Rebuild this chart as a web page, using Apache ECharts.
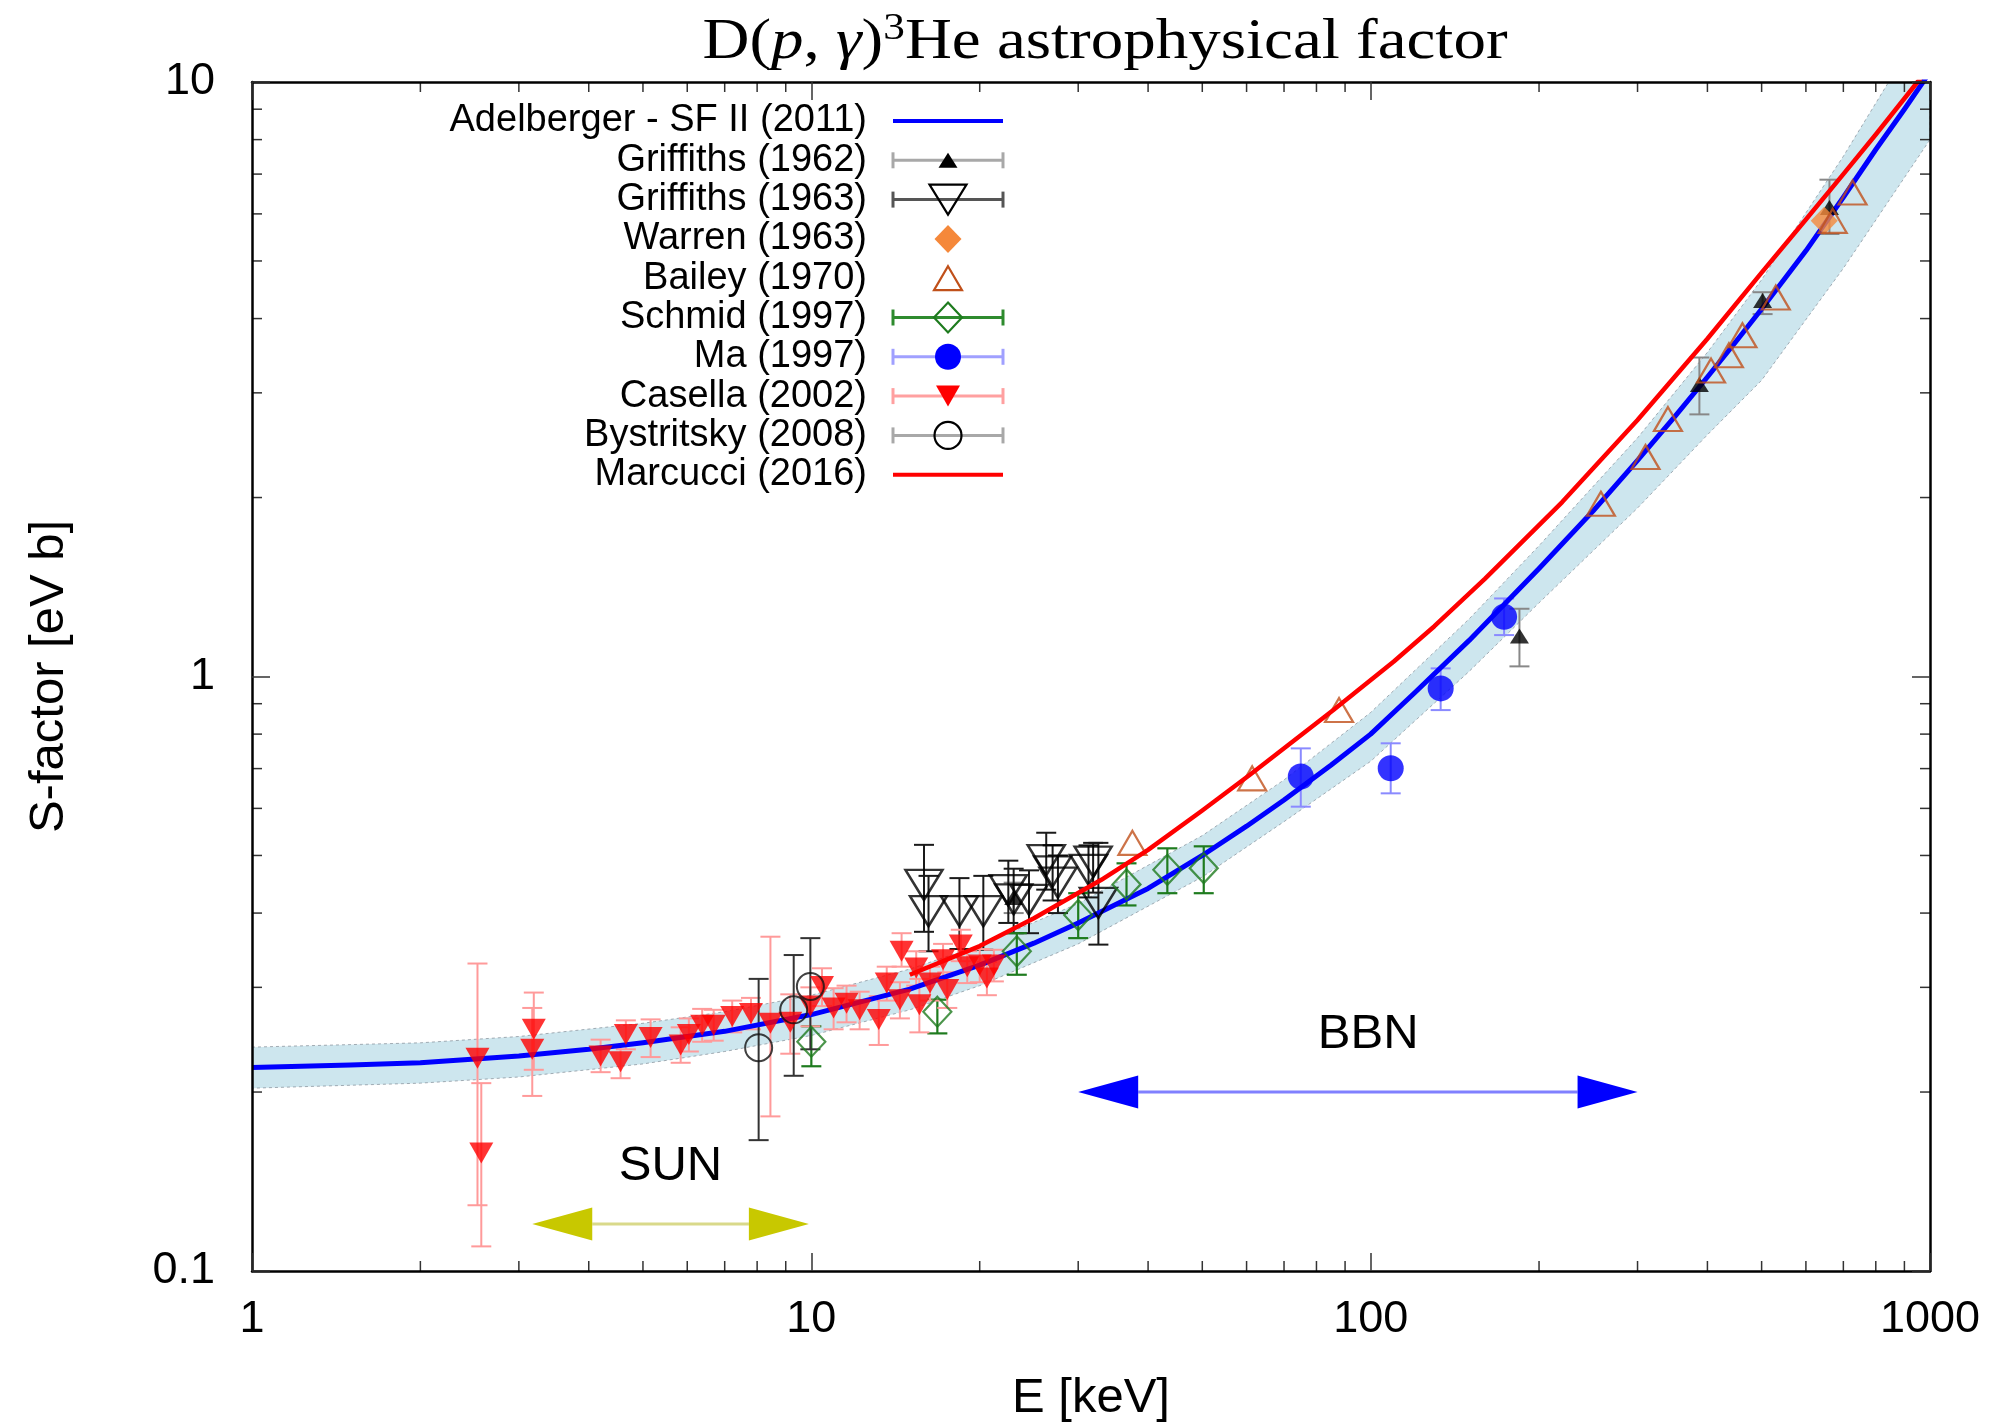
<!DOCTYPE html>
<html><head><meta charset="utf-8">
<script src="https://cdn.jsdelivr.net/npm/echarts@6/dist/echarts.min.js"></script>
<style>html,body{margin:0;padding:0;background:#fff}#c{width:2003px;height:1423px}</style>
</head><body><div id="c"></div>
<script>
// ---------------- data ----------------
const xTickLabels = ['1', '10', '100', '1000'];
const yTickLabels = ['0.1', '1', '10'];
const xMinorTicks = [2,3,4,5,6,7,8,9,20,30,40,50,60,70,80,90,200,300,400,500,600,700,800,900];
const yMinorTicks = [0.2,0.3,0.4,0.5,0.6,0.7,0.8,0.9,2,3,4,5,6,7,8,9];

const legendLabels = ['Adelberger - SF II (2011)', 'Griffiths (1962)', 'Griffiths (1963)', 'Warren (1963)',
  'Bailey (1970)', 'Schmid (1997)', 'Ma (1997)', 'Casella (2002)', 'Bystritsky (2008)', 'Marcucci (2016)'];

const adelbergerE = [1, 1.5, 2, 3, 4, 5, 7, 10, 15, 20, 25, 30, 40, 50, 60, 70, 85, 100, 120, 150, 200, 250, 300, 350, 400, 450, 500, 600, 700, 800, 900, 1000];
const adelbergerS = [0.220, 0.222, 0.224, 0.230, 0.236, 0.242, 0.253, 0.270, 0.298, 0.327, 0.356, 0.385, 0.44, 0.50, 0.56, 0.62, 0.71, 0.80, 0.94, 1.15, 1.52, 1.90, 2.31, 2.74, 3.19, 3.66, 4.15, 5.2, 6.4, 7.7, 9.0, 10.4];

const bandE  = [1, 2, 3, 5, 7, 10, 15, 20, 30, 50, 70, 100, 150, 200, 300, 400, 500, 700, 1000];
const bandLo = [0.203, 0.207, 0.212, 0.223, 0.234, 0.249, 0.275, 0.302, 0.355, 0.46, 0.57, 0.72, 1.02, 1.33, 1.92, 2.55, 3.15, 4.86, 8.0];
const bandHi = [0.238, 0.242, 0.248, 0.261, 0.273, 0.291, 0.322, 0.353, 0.415, 0.54, 0.67, 0.87, 1.25, 1.66, 2.52, 3.51, 4.65, 7.5, 13.0];

const marcucciE = [15, 20, 25, 33, 40, 50, 61, 86, 110, 130, 160, 220, 300, 400, 500, 600, 700, 800, 950, 1000];
const marcucciS = [0.315, 0.352, 0.392, 0.455, 0.511, 0.595, 0.685, 0.88, 1.06, 1.215, 1.46, 1.965, 2.70, 3.70, 4.78, 5.87, 7.0, 8.16, 10.0, 10.6];

const griffiths62E  = [23.0, 184.5, 387, 502, 661];
const griffiths62S  = [0.425, 1.17, 3.10, 4.29, 6.15];
const griffiths62Lo = [0.40, 1.04, 2.76, 4.07, 5.55];
const griffiths62Hi = [0.45, 1.30, 3.44, 4.43, 6.85];

const griffiths63E  = [15.9, 16.2, 18.4, 20.3, 22.5, 23.0, 24.5, 26.3, 27.0, 27.6, 31.3, 31.9, 32.6];
const griffiths63S  = [0.446, 0.403, 0.403, 0.403, 0.437, 0.422, 0.421, 0.491, 0.470, 0.450, 0.473, 0.488, 0.416];
const griffiths63Lo = [0.372, 0.345, 0.348, 0.347, 0.385, 0.370, 0.370, 0.438, 0.420, 0.400, 0.425, 0.433, 0.354];
const griffiths63Hi = [0.521, 0.462, 0.458, 0.462, 0.490, 0.475, 0.472, 0.546, 0.520, 0.500, 0.520, 0.525, 0.525];

const warrenE = [647];
const warrenS = [5.84];

const baileyE = [37.5, 61.4, 87.8, 258, 310, 340, 406, 437, 462, 530, 670, 727];
const baileyS = [0.525, 0.674, 0.878, 1.952, 2.34, 2.71, 3.27, 3.47, 3.75, 4.34, 5.84, 6.52];

const schmidE  = [10.0, 16.8, 23.3, 30.0, 36.6, 43.3, 50.3];
const schmidS  = [0.243, 0.273, 0.345, 0.397, 0.447, 0.473, 0.476];
const schmidLo = [0.221, 0.251, 0.315, 0.363, 0.412, 0.432, 0.432];
const schmidHi = [0.258, 0.286, 0.370, 0.432, 0.485, 0.514, 0.518];

const maE  = [75.0, 108.6, 133.4, 173.2];
const maS  = [0.679, 0.701, 0.955, 1.26];
const maLo = [0.604, 0.636, 0.878, 1.174];
const maHi = [0.757, 0.772, 1.032, 1.353];

const casellaE  = [2.53, 2.57, 3.19, 3.17, 4.20, 4.56, 4.66, 5.16, 5.84, 6.04, 6.38, 6.69, 7.22, 7.80, 8.45, 9.17, 9.96, 10.45, 10.96, 11.56, 12.2, 13.2, 13.64, 14.4, 14.5, 15.4, 15.6, 16.3, 17.2, 17.5, 18.5, 19.0, 20.0, 20.6, 21.2];
const casellaS  = [0.228, 0.158, 0.255, 0.236, 0.230, 0.225, 0.250, 0.247, 0.240, 0.250, 0.259, 0.259, 0.268, 0.271, 0.261, 0.262, 0.279, 0.301, 0.277, 0.282, 0.275, 0.265, 0.305, 0.286, 0.345, 0.3235, 0.2805, 0.305, 0.334, 0.2975, 0.3535, 0.325, 0.327, 0.311, 0.327];
const casellaLo = [0.129, 0.110, 0.218, 0.197, 0.216, 0.211, 0.236, 0.229, 0.224, 0.234, 0.243, 0.244, 0.252, 0.255, 0.182, 0.232, 0.258, 0.279, 0.255, 0.262, 0.255, 0.240, 0.285, 0.266, 0.325, 0.302, 0.252, 0.285, 0.313, 0.277, 0.332, 0.305, 0.306, 0.291, 0.307];
const casellaHi = [0.329, 0.207, 0.294, 0.277, 0.245, 0.240, 0.264, 0.265, 0.257, 0.266, 0.276, 0.275, 0.285, 0.288, 0.365, 0.292, 0.300, 0.323, 0.299, 0.302, 0.295, 0.290, 0.325, 0.306, 0.370, 0.345, 0.310, 0.325, 0.355, 0.318, 0.375, 0.345, 0.348, 0.331, 0.347];

const bystritskyE  = [8.05, 9.3, 9.96];
const bystritskyS  = [0.2375, 0.275, 0.301];
const bystritskyLo = [0.166, 0.213, 0.236];
const bystritskyHi = [0.310, 0.340, 0.363];

// annotations (data coordinates)
const annotLabels  = ['SUN', 'BBN'];
const annotFromE   = [3.17, 30];
const annotToE     = [9.9, 300];
const annotArrowS  = [0.12, 0.2];
const annotLabelE  = [5.6, 99];
const annotLabelS  = [0.15, 0.25];

// ---------------- helpers ----------------
const zip2 = (a, b) => a.map((v, i) => [v, b[i]]);
const zip3 = (a, b, c) => a.map((v, i) => [v, b[i], c[i]]);
const SANS = 'Liberation Sans, Arial, Helvetica, sans-serif';

function errSeries(E, lo, hi, color, lw) {
  return {
    type: 'custom', silent: true, clip: true,
    data: zip3(E, lo, hi), encode: { x: 0, y: [1, 2] },
    renderItem: function (params, api) {
      const x = api.value(0);
      const p1 = api.coord([x, api.value(1)]);
      const p2 = api.coord([x, api.value(2)]);
      const st = { stroke: color, lineWidth: lw, fill: null };
      const cw = 10;
      return { type: 'group', children: [
        { type: 'line', shape: { x1: p1[0], y1: p1[1], x2: p2[0], y2: p2[1] }, style: st },
        { type: 'line', shape: { x1: p1[0] - cw, y1: p1[1], x2: p1[0] + cw, y2: p1[1] }, style: st },
        { type: 'line', shape: { x1: p2[0] - cw, y1: p2[1], x2: p2[0] + cw, y2: p2[1] }, style: st }
      ]};
    }
  };
}
function scatter(E, S, symbol, size, itemStyle, rotate) {
  return { type: 'scatter', data: zip2(E, S), symbol: symbol, symbolSize: size,
    symbolRotate: rotate || 0, itemStyle: itemStyle, silent: true, clip: true, z: 3 };
}

// ---------------- legend (graphic) ----------------
const ROW0 = 121, ROWH = 39.3, TXT_R = 867, L1 = 893, L2 = 1003, MX = 948;
const legendStyles = [
  { line: { color: '#0000ff', width: 4 } },
  { err: '#a8a8a8', marker: { shape: 'triUp', w: 19, h: 15, fill: '#000', stroke: 'none' } },
  { err: '#555555', marker: { shape: 'triDown', w: 37, h: 30, fill: 'none', stroke: '#000' } },
  { marker: { shape: 'diamond', w: 27, h: 28, fill: '#f5883a', stroke: 'none' } },
  { marker: { shape: 'triUp', w: 28, h: 24, fill: 'none', stroke: '#c0501a' } },
  { err: '#2e8b2e', marker: { shape: 'diamond', w: 28, h: 30, fill: 'none', stroke: '#1e7b1e' } },
  { err: '#a0a0ff', marker: { shape: 'circle', w: 26, fill: '#0000ff', stroke: 'none' } },
  { err: '#ffa0a0', marker: { shape: 'triDown', w: 24, h: 21, fill: '#ff0000', stroke: 'none' } },
  { err: '#a8a8a8', marker: { shape: 'circle', w: 27, fill: 'none', stroke: '#000' } },
  { line: { color: '#ff0000', width: 4 } }
];
function markerGraphic(m, cx, cy) {
  const st = { fill: m.fill, stroke: m.stroke, lineWidth: 2.2 };
  if (m.shape === 'circle') return { type: 'circle', shape: { cx: cx, cy: cy, r: m.w / 2 }, style: st };
  let pts;
  const w = m.w / 2, h = m.h / 2;
  if (m.shape === 'triUp') pts = [[cx, cy - h], [cx + w, cy + h], [cx - w, cy + h]];
  else if (m.shape === 'triDown') pts = [[cx - w, cy - h], [cx + w, cy - h], [cx, cy + h]];
  else pts = [[cx, cy - h], [cx + w, cy], [cx, cy + h], [cx - w, cy]];
  return { type: 'polygon', shape: { points: pts }, style: st };
}
const legendGraphic = [];
legendLabels.forEach((lab, i) => {
  const y = ROW0 + ROWH * i;
  const s = legendStyles[i];
  legendGraphic.push({ type: 'text', x: TXT_R, y: y, style: { text: lab, font: '38px ' + SANS, fill: '#000', align: 'right', verticalAlign: 'middle' } });
  if (s.line) legendGraphic.push({ type: 'line', shape: { x1: L1, y1: y, x2: L2, y2: y }, style: { stroke: s.line.color, lineWidth: s.line.width } });
  if (s.err) {
    const st = { stroke: s.err, lineWidth: 3 };
    legendGraphic.push({ type: 'line', shape: { x1: L1, y1: y, x2: L2, y2: y }, style: st });
    legendGraphic.push({ type: 'line', shape: { x1: L1, y1: y - 8, x2: L1, y2: y + 8 }, style: st });
    legendGraphic.push({ type: 'line', shape: { x1: L2, y1: y - 8, x2: L2, y2: y + 8 }, style: st });
  }
  if (s.marker) legendGraphic.push(markerGraphic(s.marker, MX, y));
});

// title
legendGraphic.push({
  type: 'text', x: 1105, y: 76, scaleX: 1.14,
  style: {
    text: '{n|D(}{i|p}{n|, }{i|γ}{n|)}{s|3}{n|He astrophysical factor}',
    align: 'center', verticalAlign: 'bottom', fill: '#000',
    rich: {
      n: { fontFamily: 'Liberation Serif', fontSize: 57, lineHeight: 66, fill: '#000' },
      i: { fontFamily: 'Liberation Serif', fontStyle: 'italic', fontSize: 57, lineHeight: 66, fill: '#000' },
      s: { fontFamily: 'Liberation Serif', fontSize: 38, lineHeight: 66, verticalAlign: 'top', fill: '#000' }
    }
  }
});

// ---------------- axes ----------------
function labelFmt(list) {
  return function (v) { const f = list.find(s => Math.abs(+s - v) < 1e-6 * Math.max(1, v)); return f || ''; };
}
const axisLineStyle = { show: true, onZero: false, lineStyle: { color: '#000', width: 2.5 } };
const majorTick = { show: true, inside: true, length: 18, lineStyle: { color: '#333', width: 1.5 } };
const nameStyle = { fontSize: 49, fontFamily: SANS, color: '#000' };
const tickLabelStyle = { fontSize: 45, fontFamily: SANS, color: '#000' };

const option = {
  animation: false,
  backgroundColor: '#fff',
  grid: { left: 252, right: 73, top: 82, bottom: 152, containLabel: false, outerBoundsMode: 'none' },
  xAxis: [
    { type: 'log', logBase: 10, min: 1, max: 1000, position: 'bottom', z: 10,
      axisLine: axisLineStyle, axisTick: majorTick, splitLine: { show: false }, minorTick: { show: false },
      axisLabel: Object.assign({ margin: 26, showMinLabel: true, showMaxLabel: true, formatter: labelFmt(xTickLabels) }, tickLabelStyle),
      name: 'E [keV]', nameLocation: 'middle', nameGap: 103, nameTextStyle: nameStyle, nameMoveOverlap: false },
    { type: 'log', logBase: 10, min: 1, max: 1000, position: 'top', z: 10,
      axisLine: axisLineStyle, axisTick: majorTick, splitLine: { show: false }, axisLabel: { show: false } }
  ],
  yAxis: [
    { type: 'log', logBase: 10, min: 0.1, max: 10, position: 'left', z: 10,
      axisLine: axisLineStyle, axisTick: majorTick, splitLine: { show: false }, minorTick: { show: false },
      axisLabel: Object.assign({ margin: 37, showMinLabel: true, showMaxLabel: true, formatter: labelFmt(yTickLabels) }, tickLabelStyle),
      name: 'S-factor [eV b]', nameLocation: 'middle', nameGap: 178, nameRotate: 90, nameTextStyle: nameStyle, nameMoveOverlap: false },
    { type: 'log', logBase: 10, min: 0.1, max: 10, position: 'right', z: 10,
      axisLine: axisLineStyle, axisTick: majorTick, splitLine: { show: false }, axisLabel: { show: false } }
  ],
  graphic: legendGraphic,
  series: [
    // uncertainty band
    { type: 'custom', silent: true, clip: true, z: 1, data: [[1, 1]],
      renderItem: function (params, api) {
        const pts = [];
        for (let i = 0; i < bandE.length; i++) pts.push(api.coord([bandE[i], bandHi[i]]));
        for (let i = bandE.length - 1; i >= 0; i--) pts.push(api.coord([bandE[i], bandLo[i]]));
        return { type: 'polygon', shape: { points: pts },
          style: { fill: '#cde6ee', stroke: 'rgba(130,140,150,0.7)', lineWidth: 1, lineDash: [3, 3] } };
      } },
    { type: 'line', name: legendLabels[0], data: zip2(adelbergerE, adelbergerS), showSymbol: false, symbol: 'none',
      smooth: false, clip: true, silent: true, z: 2, lineStyle: { color: '#0000ff', width: 5, join: 'round' } },
    errSeries(griffiths62E, griffiths62Lo, griffiths62Hi, '#888888', 2),
    scatter(griffiths62E, griffiths62S, 'triangle', [19, 15], { color: '#000' }),
    errSeries(griffiths63E, griffiths63Lo, griffiths63Hi, '#1a1a1a', 2),
    scatter(griffiths63E, griffiths63S, 'triangle', [37, 30], { color: 'rgba(0,0,0,0)', borderColor: '#000', borderWidth: 2.5 }, 180),
    scatter(warrenE, warrenS, 'diamond', [27, 28], { color: '#f5883a' }),
    scatter(baileyE, baileyS, 'triangle', [28, 24], { color: 'rgba(0,0,0,0)', borderColor: '#c0501a', borderWidth: 2.2 }),
    errSeries(schmidE, schmidLo, schmidHi, '#1e7b1e', 2.2),
    scatter(schmidE, schmidS, 'diamond', [28, 30], { color: 'rgba(0,0,0,0)', borderColor: '#1e7b1e', borderWidth: 2.2 }),
    errSeries(maE, maLo, maHi, '#8a8aff', 2),
    scatter(maE, maS, 'circle', 26, { color: '#0000ff' }),
    errSeries(casellaE, casellaLo, casellaHi, '#ff9a9a', 2),
    scatter(casellaE, casellaS, 'triangle', [24, 21], { color: '#ff0000' }, 180),
    errSeries(bystritskyE, bystritskyLo, bystritskyHi, '#333333', 2),
    scatter(bystritskyE, bystritskyS, 'circle', 27, { color: 'rgba(0,0,0,0)', borderColor: '#111', borderWidth: 2 }),
    { type: 'line', name: legendLabels[9], data: zip2(marcucciE, marcucciS), showSymbol: false, symbol: 'none',
      smooth: false, clip: true, silent: true, z: 4, lineStyle: { color: '#ff0000', width: 4.5, join: 'round' } },
    // SUN / BBN annotations
    { type: 'custom', silent: true, clip: false, z: 5,
      data: annotLabels.map((l, i) => [annotFromE[i], annotToE[i], annotArrowS[i], annotLabelE[i], annotLabelS[i]]),
      encode: { x: [0, 1, 3], y: [2, 4] },
      renderItem: function (params, api) {
        const i = params.dataIndex;
        const head = ['#c8c800', '#0000ff'][i];
        const shaft = ['#d9d98a', '#8080ff'][i];
        const a = api.coord([api.value(0), api.value(2)]);
        const b = api.coord([api.value(1), api.value(2)]);
        const lp = api.coord([api.value(3), api.value(4)]);
        const L = 60, H = 16.5;
        return { type: 'group', children: [
          { type: 'line', shape: { x1: a[0] + L, y1: a[1], x2: b[0] - L, y2: b[1] }, style: { stroke: shaft, lineWidth: 3 } },
          { type: 'polygon', shape: { points: [[a[0], a[1]], [a[0] + L, a[1] - H], [a[0] + L, a[1] + H]] }, style: { fill: head } },
          { type: 'polygon', shape: { points: [[b[0], b[1]], [b[0] - L, b[1] - H], [b[0] - L, b[1] + H]] }, style: { fill: head } },
          { type: 'text', x: lp[0], y: lp[1], style: { text: annotLabels[i], font: '49px ' + SANS, fill: '#000', align: 'center', verticalAlign: 'middle' } }
        ]};
      } },
    // minor ticks on all four sides
    { type: 'custom', silent: true, clip: false, z: 10, data: [[1, 1]],
      renderItem: function (params, api) {
        const cs = params.coordSys;
        const st = { stroke: '#333', lineWidth: 1.5 };
        const ch = [];
        const bottom = cs.y + cs.height, right = cs.x + cs.width;
        xMinorTicks.forEach(v => {
          const px = api.coord([v, 1])[0];
          ch.push({ type: 'line', shape: { x1: px, y1: bottom, x2: px, y2: bottom - 10 }, style: st });
          ch.push({ type: 'line', shape: { x1: px, y1: cs.y, x2: px, y2: cs.y + 10 }, style: st });
        });
        yMinorTicks.forEach(v => {
          const py = api.coord([1, v])[1];
          ch.push({ type: 'line', shape: { x1: cs.x, y1: py, x2: cs.x + 10, y2: py }, style: st });
          ch.push({ type: 'line', shape: { x1: right, y1: py, x2: right - 10, y2: py }, style: st });
        });
        return { type: 'group', children: ch };
      } }
  ]
};
const chart = echarts.init(document.getElementById('c'), null, { renderer: 'canvas' });
chart.setOption(option);
</script></body></html>
